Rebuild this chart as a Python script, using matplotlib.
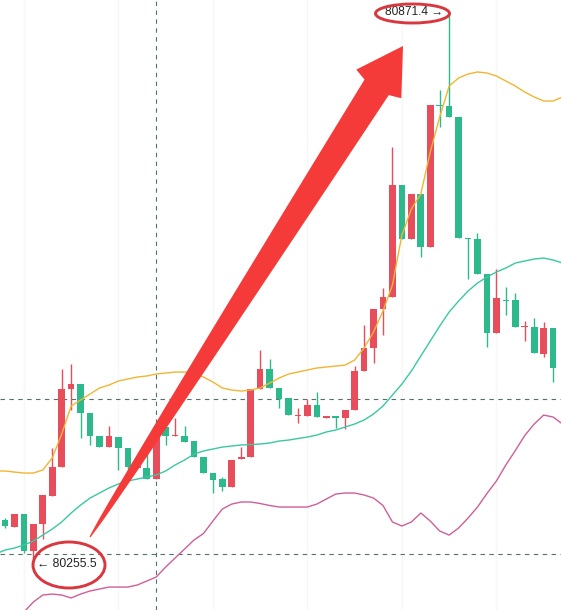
import matplotlib
matplotlib.use('Agg')
import matplotlib.pyplot as plt
import matplotlib.patches as mpatches
import matplotlib.transforms as mtransforms
import numpy as np

# ---------------- data (prices) ----------------
opens = [80305.7, 80297.9, 80312.4, 80271.1, 80301.2, 80332.5, 80364.8, 80451.9, 80457.4, 80425.1,
         80399.4, 80387.1, 80398.3, 80386.0, 80364.2, 80363.7, 80351.4, 80409.5, 80399.0, 80399.4,
         80393.8, 80376.0, 80358.1, 80351.4, 80342.5, 80373.7, 80376.0, 80451.9, 80474.2, 80453.0,
         80441.8, 80421.2, 80421.7, 80434.0, 80420.0, 80420.6, 80419.5, 80428.4, 80471.9, 80497.6,
         80541.1, 80554.5, 80679.5, 80619.2, 80669.4, 80610.3, 80768.7, 80768.0, 80755.4, 80620.3,
         80619.2, 80580.2, 80514.3, 80551.2, 80551.2, 80520.5, 80521.0, 80490.9, 80519.9]
highs = [80307.9, 80312.4, 80312.4, 80301.2, 80333.6, 80386.0, 80474.2, 80479.7, 80457.4, 80425.1,
         80399.4, 80410.6, 80398.3, 80386.0, 80367.0, 80381.6, 80409.5, 80409.5, 80419.5, 80410.6,
         80393.8, 80376.0, 80358.1, 80353.7, 80372.6, 80387.1, 80451.9, 80495.4, 80485.3, 80453.0,
         80441.8, 80430.7, 80440.7, 80448.5, 80420.6, 80420.6, 80428.4, 80477.5, 80523.3, 80541.1,
         80564.5, 80721.9, 80679.5, 80669.4, 80669.4, 80768.7, 80785.5, 80871.4, 80755.4, 80620.3,
         80625.9, 80580.2, 80585.7, 80565.7, 80559.0, 80527.7, 80531.1, 80526.6, 80519.9]
lows = [80296.8, 80297.9, 80268.9, 80255.5, 80284.5, 80332.5, 80364.8, 80428.4, 80397.2, 80389.4,
        80387.1, 80387.1, 80361.5, 80361.5, 80364.2, 80351.4, 80351.4, 80389.4, 80399.0, 80392.7,
        80376.0, 80358.1, 80335.8, 80338.0, 80342.5, 80373.7, 80376.0, 80451.9, 80453.0, 80430.7,
        80422.8, 80413.9, 80421.7, 80420.6, 80420.0, 80408.3, 80407.2, 80428.4, 80471.9, 80480.9,
        80512.1, 80554.5, 80619.2, 80619.2, 80599.1, 80610.3, 80744.2, 80755.4, 80620.3, 80574.6,
        80580.2, 80498.7, 80514.3, 80534.4, 80521.0, 80505.4, 80492.0, 80487.6, 80459.7]
closes = [80299.0, 80312.4, 80271.1, 80301.2, 80333.6, 80364.8, 80451.9, 80457.4, 80425.1, 80399.4,
          80387.1, 80399.4, 80386.0, 80364.8, 80364.8, 80351.4, 80409.5, 80399.4, 80399.4, 80392.7,
          80376.0, 80358.1, 80350.3, 80342.5, 80372.6, 80376.0, 80451.9, 80474.2, 80453.0, 80440.7,
          80422.8, 80421.7, 80434.0, 80420.6, 80420.6, 80420.0, 80428.4, 80471.9, 80497.6, 80541.1,
          80554.5, 80679.5, 80619.2, 80669.4, 80610.3, 80768.7, 80767.6, 80755.4, 80620.3, 80619.2,
          80580.2, 80514.3, 80553.4, 80550.0, 80521.0, 80521.0, 80492.0, 80519.9, 80475.3]

# Bollinger bands, one value per bar position from -1 to 59
band_upper = [80360.4, 80360.4, 80359.2, 80358.1, 80358.1, 80361.5, 80374.9, 80401.6, 80432.9, 80439.6,
              80446.3, 80453.0, 80456.3, 80460.8, 80463.0, 80465.2, 80466.4, 80468.6, 80469.7, 80470.8,
              80470.8, 80469.7, 80465.2, 80459.7, 80453.0, 80450.7, 80449.6, 80450.7, 80453.0, 80458.5,
              80464.1, 80468.6, 80470.8, 80473.1, 80475.3, 80476.4, 80477.5, 80478.6, 80484.2, 80497.6,
              80515.5, 80538.9, 80567.9, 80623.7, 80652.7, 80669.4, 80716.3, 80755.4, 80789.9, 80798.9,
              80803.3, 80805.6, 80804.4, 80801.1, 80795.5, 80789.9, 80783.2, 80777.7, 80773.2, 80773.2,
              80777.7]
band_middle = [80267.7, 80272.2, 80274.4, 80277.8, 80282.3, 80288.9, 80295.6, 80303.5, 80313.5, 80322.4,
               80330.2, 80335.8, 80341.4, 80345.9, 80349.2, 80351.4, 80353.7, 80355.9, 80360.4, 80367.1,
               80372.6, 80379.3, 80382.7, 80384.9, 80387.1, 80388.3, 80389.4, 80389.9, 80390.5, 80391.6,
               80393.8, 80394.9, 80396.6, 80398.3, 80400.5, 80403.9, 80406.1, 80409.5, 80412.8, 80417.3,
               80424.0, 80432.9, 80445.2, 80457.4, 80471.9, 80488.7, 80505.4, 80522.1, 80537.8, 80550.0,
               80561.2, 80570.1, 80576.8, 80582.4, 80586.9, 80592.4, 80594.7, 80596.9, 80598.0, 80595.8,
               80592.4]
band_lower = [80166.2, 80177.4, 80189.6, 80203.0, 80214.2, 80222.0, 80223.1, 80222.0, 80218.7, 80223.1,
              80226.5, 80228.7, 80230.9, 80230.9, 80230.9, 80233.2, 80237.6, 80242.1, 80253.2, 80263.3,
              80273.3, 80283.4, 80290.6, 80304.6, 80318.0, 80323.5, 80325.8, 80325.8, 80324.1, 80321.9,
              80320.2, 80320.2, 80320.2, 80320.2, 80323.5, 80329.1, 80334.7, 80335.8, 80335.8, 80333.6,
              80330.2, 80321.9, 80303.5, 80299.0, 80303.5, 80313.5, 80304.6, 80293.4, 80288.9, 80296.8,
              80307.9, 80320.2, 80335.3, 80349.2, 80367.1, 80383.2, 80400.0, 80412.8, 80422.8, 80420.6,
              80412.8]

price_lines = [80440.4, 80267.7]
crosshair_bar = 16
high_label = "80871.4 →"
low_label = "← 80255.5"
high_bar = 47
low_bar = 3

# ---------------- figure ----------------
W, H = 561, 610
fig = plt.figure(figsize=(W / 100, H / 100), dpi=100)
ax = fig.add_axes([0, 0, 1, 1])
ax.set_axis_off()
ax.set_xlim(-0.529, 58.836)
ax.set_ylim(80205.3, 80885.9)

UP = '#E84D5B'
DOWN = '#2DB98C'

# faint vertical grid
for gx in [2, 12, 22, 32, 42, 52]:
    ax.axvline(gx, color='#f7f7f7', lw=1.0, zorder=0)

# price lines and crosshair
for pl in price_lines:
    ax.axhline(pl, color='#56706c', lw=0.8, ls=(0, (4, 4)), zorder=1)
ax.axvline(crosshair_bar, color='#56706c', lw=0.8, ls=(0, (4, 4)), zorder=1)

# candles
x = np.arange(len(opens))
o = np.array(opens); c = np.array(closes); h = np.array(highs); l = np.array(lows)
up = c >= o
colors = np.where(up, UP, DOWN)
ax.vlines(x, l, h, colors=colors, lw=1.0, zorder=2)
body_bottom = np.minimum(o, c)
body_h = np.maximum(np.abs(c - o), 1.4)
ax.bar(x, body_h, bottom=body_bottom, width=0.70, color=colors, edgecolor='none', zorder=3)

# Bollinger bands
bx = np.arange(-1, 60)
ax.plot(bx, band_upper, color='#F0B534', lw=1.0, zorder=4)
ax.plot(bx, band_middle, color='#3CC7A2', lw=1.0, zorder=4)
ax.plot(bx, band_lower, color='#CF5F97', lw=1.0, zorder=4)

# pixel-space transform for hand-drawn annotations
px = mtransforms.Affine2D().scale(1 / W, -1 / H).translate(0, 1) + fig.transFigure

# big red arrow
tail = np.array([90.0, 537.0])
tip = np.array([403.0, 46.0])
d = tip - tail
L = np.hypot(*d)
u = d / L
n = np.array([-u[1], u[0]])
if n[0] < 0:
    n = -n
s_head = L - 45.0
t = np.linspace(0, 1, 30)
s = t * (s_head - 4)
half = 0.6 + 13.8 * t ** 0.7
left = [tail + si * u - hi * n for si, hi in zip(s, half)]
right = [tail + si * u + hi * n for si, hi in zip(s, half)]
base = tail + s_head * u
pts = left + [base - 26.7 * n, tip, base + 26.7 * n] + right[::-1]
arrow = mpatches.Polygon(np.array(pts), closed=True, facecolor='#F53A3A', edgecolor='none',
                         transform=px, zorder=10)
fig.add_artist(arrow)

# labels
font = ['Liberation Sans', 'DejaVu Sans']
ax.annotate(high_label, xy=(high_bar, highs[high_bar]), xytext=(-4.0, 0.5), textcoords='offset points',
            ha='right', va='center', fontsize=8.6, color='#222222', family=font, zorder=11)
ax.annotate(low_label, xy=(low_bar, lows[low_bar]), xytext=(2.8, 0.5), textcoords='offset points',
            ha='left', va='center', fontsize=8.8, color='#222222', family=font, zorder=11)

# red ellipses around the labels
for (cx, cy, ew, eh) in [(412.5, 13.5, 74, 19), (69, 565, 72, 46)]:
    e = mpatches.Ellipse((cx, cy), ew, eh, facecolor='none', edgecolor='#D8373F', lw=2.1,
                         transform=px, zorder=12)
    fig.add_artist(e)

fig.savefig('out.png', dpi=100, facecolor='white')
